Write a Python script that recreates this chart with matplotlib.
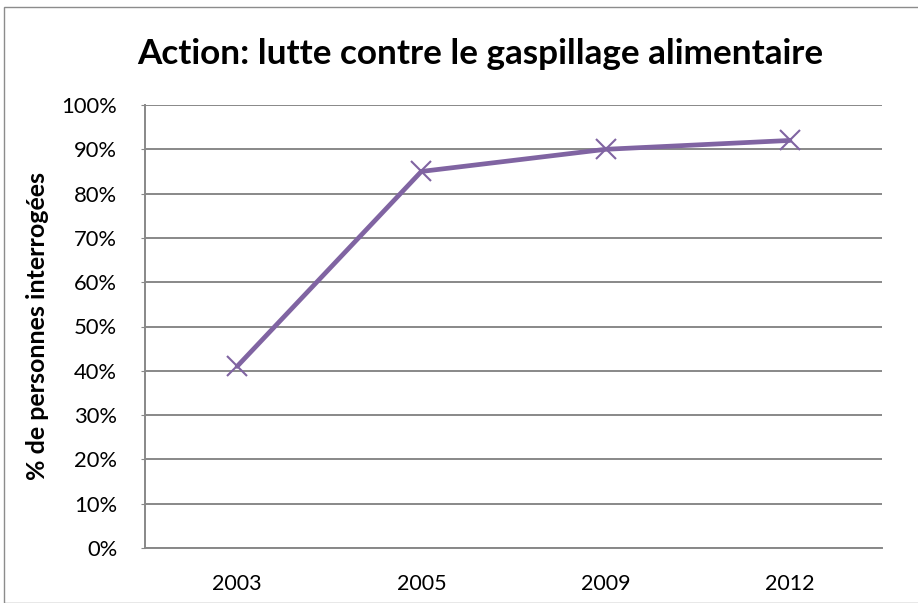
import matplotlib
matplotlib.use("Agg")
import matplotlib.pyplot as plt
from matplotlib.patches import Rectangle
from matplotlib.ticker import FuncFormatter, MultipleLocator

years = ["2003", "2005", "2009", "2012"]
values = [41, 85, 90, 92]
title = "Action: lutte contre le gaspillage alimentaire"
ylabel = "% de personnes interrogées"

plt.rcParams['font.family'] = ['Lato', 'DejaVu Sans']

fig = plt.figure(figsize=(9.18, 6.03), dpi=100)
fig.patches.append(Rectangle((4/918, 0), 1.0, 1 - 7/603, transform=fig.transFigure,
                             fill=False, edgecolor='#8c8c8c', linewidth=1.0))
ax = fig.add_axes([145/918, 55/603, 737/918, 443/603])

x = list(range(len(years)))
ax.plot(x, values, color='#8064A2', linewidth=3.4, marker='x', markersize=14,
        markeredgewidth=1.5, solid_capstyle='round', zorder=3)

ax.set_xlim(-0.5, len(years) - 0.5)
ax.set_ylim(0, 100)
ax.yaxis.set_major_locator(MultipleLocator(10))
ax.yaxis.set_major_formatter(FuncFormatter(lambda v, p: f"{int(round(v))}%"))
ax.set_xticks(x)
ax.set_xticklabels(years)
ax.grid(axis='y', color='#888888', linewidth=1.4)
ax.set_axisbelow(True)
for s in ['top', 'right']:
    ax.spines[s].set_visible(False)
for s in ['left', 'bottom']:
    ax.spines[s].set_color('#888888')
    ax.spines[s].set_linewidth(1.4)
ax.tick_params(axis='y', length=3, color='#888888', labelsize=15.8, pad=17)
ax.tick_params(axis='x', length=0, labelsize=15.5, pad=19)

ax.set_ylabel(ylabel, fontsize=18, fontweight='bold')
ax.yaxis.set_label_coords((49 - 145) / 737, 0.5)
fig.text(480/918, 1 - 54/603, title, fontsize=25.3, fontweight='bold', ha='center', va='center')

fig.savefig("out.png", dpi=100)
